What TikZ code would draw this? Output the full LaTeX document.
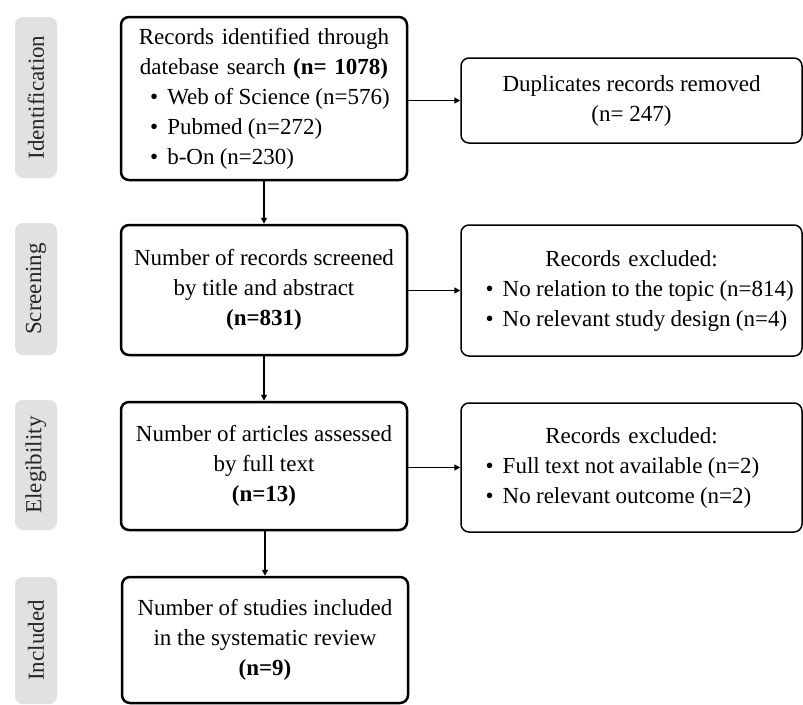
\documentclass[tikz,border=0pt]{standalone}
\usepackage{fontspec}
\setmainfont{Liberation Serif}
\usetikzlibrary{arrows.meta}
\definecolor{labgray}{RGB}{225,225,225}
\newcommand{\blt}[2]{\mbox{\spaceskip=0.23em plus 0.02em minus 0.02em\relax\hspace*{#1}\textbullet\hspace{0.4em}#2}}
\tikzset{
  txt/.style={font=\fontsize{23}{30}\selectfont},
  mainbox/.style={txt, draw, line width=2.5pt, rounded corners=8pt, minimum width=286pt, align=center, inner sep=0pt},
  sidebox/.style={txt, draw, line width=1.5pt, rounded corners=8pt, minimum width=341pt, align=center, inner sep=0pt},
  phase/.style={txt, fill=labgray, rounded corners=8pt, rotate=90, minimum height=42pt, inner sep=0pt, text=black!85},
  conn/.style={line width=1.5pt, -{Triangle[length=6pt,width=6pt]}}
}
\begin{document}
\begin{tikzpicture}[x=1pt,y=-1pt]
\useasboundingbox (0,0) rectangle (803,704);
% phase labels
\node[phase, minimum width=161pt] (l1) at (36,97.5) {Identification};
\node[phase, minimum width=132pt] (l2) at (36,289) {Screening};
\node[phase, minimum width=130pt] (l3) at (36,465) {Elegibility};
\node[phase, minimum width=127pt] (l4) at (36,640.5) {Included};
% main boxes
\node[mainbox, minimum height=163pt, text width=262pt, align=left] (b1) at (264,98.5) {%
\makebox[\linewidth]{Records identified through}\\
\makebox[\linewidth]{datebase search \textbf{(n= 1078)}}\\
\blt{17pt}{Web of Science (n=576)}\\
\blt{17pt}{Pubmed (n=272)}\\
\blt{17pt}{b-On (n=230)}};
\node[mainbox, minimum height=130pt] (b2) at (264,290) {Number of records screened\\by title and abstract\\\textbf{(n=831)}};
\node[mainbox, minimum height=128pt] (b3) at (264,466) {Number of articles assessed\\by full text\\\textbf{(n=13)}};
\node[mainbox, minimum height=126pt] (b4) at (265,640) {Number of studies included\\in the systematic review\\\textbf{(n=9)}};
% side boxes
\node[sidebox, minimum height=85pt] (r1) at (631.5,100.5) {Duplicates records removed\\(n= 247)};
\node[sidebox, minimum height=131pt, text width=336pt, align=left] (r2) at (631.5,290.5) {%
\makebox[\linewidth]{Records excluded:}\\
\blt{22pt}{No relation to the topic (n=814)}\\
\blt{22pt}{No relevant study design (n=4)}};
\node[sidebox, minimum height=129pt, text width=336pt, align=left] (r3) at (631.5,467.5) {%
\makebox[\linewidth]{Records excluded:}\\
\blt{22pt}{Full text not available (n=2)}\\
\blt{22pt}{No relevant outcome (n=2)}};
% connectors
\draw[conn] (b1.south) -- (b2.north);
\draw[conn] (b2.south) -- (b3.north);
\draw[conn] (b4.north |- b3.south) -- (b4.north);
\draw[conn] (b1.east |- r1.west) -- (r1.west);
\draw[conn] (b2.east |- r2.west) -- (r2.west);
\draw[conn] (b3.east |- r3.west) -- (r3.west);
\end{tikzpicture}
\end{document}
